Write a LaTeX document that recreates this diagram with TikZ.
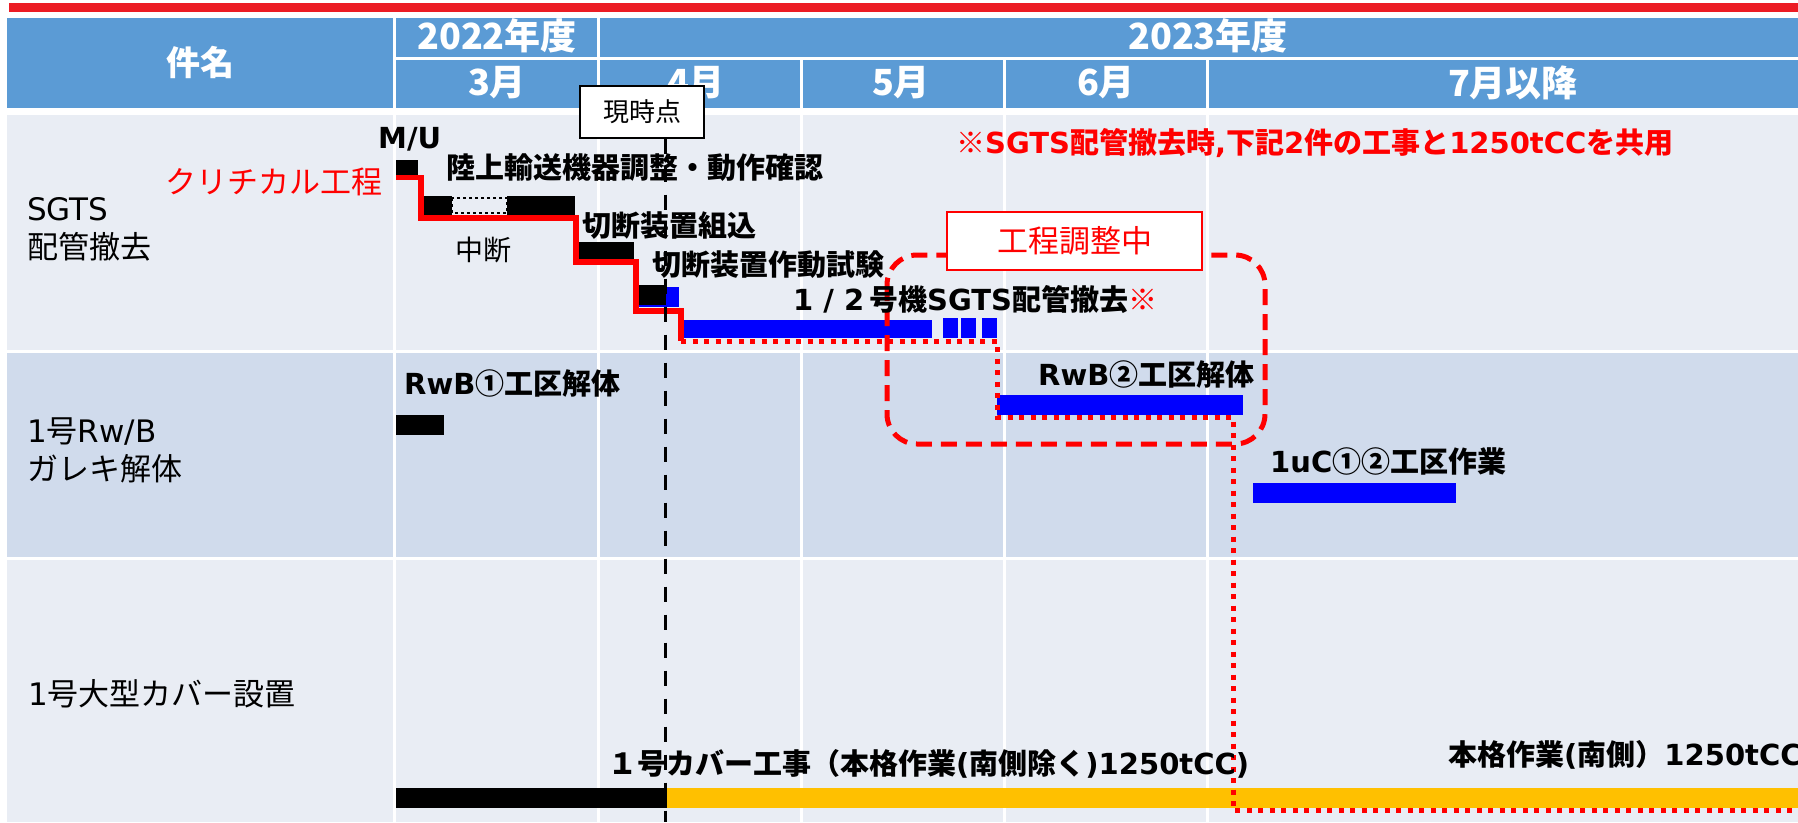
\documentclass[tikz,border=0pt]{standalone}
\usepackage{fontspec}
\setmainfont{Noto Sans CJK JP}
\newfontfamily\jpfont{Noto Sans CJK JP}
\newfontfamily\vfont{DejaVu Sans}
\newcommand{\vv}[1]{{\vfont #1}}
\definecolor{hdrblue}{HTML}{5B9BD5}
\definecolor{rowlight}{HTML}{E9EDF4}
\definecolor{rowdark}{HTML}{D0DBEC}
\definecolor{barblue}{HTML}{0000FF}
\definecolor{baryel}{HTML}{FFC000}
\definecolor{topred}{HTML}{EC1C24}
\definecolor{cpred}{HTML}{FF0000}
\begin{document}
\begin{tikzpicture}[x=1pt,y=-1pt,
  hdrtxt/.style={text=white,inner sep=0pt,font=\jpfont\bfseries\fontsize{36}{40}\selectfont},
  task/.style={anchor=west,inner sep=0pt,text height=25pt,text depth=4pt,font=\jpfont\bfseries\fontsize{29}{34}\selectfont},
  rowname/.style={anchor=west,inner sep=0pt,font=\jpfont\fontsize{31}{38}\selectfont},
  grid line/.style={white,line width=3pt},
  cpath/.style={cpred,line width=5.5pt},
  cdots/.style={cpred,line width=5pt,dash pattern=on 5pt off 6.5pt}]
\useasboundingbox (0,0) rectangle (1798,822);
\clip (0,0) rectangle (1798,822);
\fill[white] (0,0) rectangle (1798,822);
\fill[topred] (9,3) rectangle (1798,12);
% header and rows
\fill[hdrblue] (7,18) rectangle (1798,108);
\fill[rowlight] (7,115) rectangle (1798,350);
\fill[rowdark] (7,353) rectangle (1798,557);
\fill[rowlight] (7,560) rectangle (1798,822);
\draw[grid line] (394.5,18) -- (394.5,822);
\draw[grid line] (396,58.5) -- (1798,58.5);
\draw[grid line] (598,18) -- (598,822);
\foreach \gx in {801,1004,1207}
  \draw[grid line] (\gx,60) -- (\gx,822);
\node[hdrtxt,font=\jpfont\bfseries\fontsize{34}{40}\selectfont] (jianming) at (200,62) {件名};
\node[hdrtxt] (fy22) at (497,36) {2022年度};
\node[hdrtxt] (fy23) at (1208,36) {2023年度};
\foreach \mx/\mt [count=\i] in {497/3月,696/4月,901/5月,1106/6月,1513/7月以降}
  \node[hdrtxt] (mon\i) at (\mx,83) {\mt};
% row names
\node[rowname] (sgtsA) at (27,209) {\vv{SGTS}};
\node[rowname] (sgtsB) at (27,247) {配管撤去};
\node[rowname] (rwbA) at (27,432) {\vv{1}号\vv{Rw/B}};
\node[rowname] (rwbB) at (27,469) {ガレキ解体};
\node[rowname] (cov) at (28,694) {\vv{1}号大型カバー設置};
% bars
\fill[black] (396,160) rectangle (418,175);
\fill[black] (423,196) rectangle (452,215);
\draw[black,line width=2.5pt,dash pattern=on 3pt off 3pt] (452,198) rectangle (507,213);
\fill[black] (507,196) rectangle (575,215);
\fill[black] (579,242) rectangle (634,259);
\fill[barblue] (636,287) rectangle (679,307);
\fill[black] (636,285) rectangle (666,305);
\fill[barblue] (684,320) rectangle (932,338);
\foreach \bx in {943,961,982}
  \fill[barblue] (\bx,318) rectangle ++(15,20);
\fill[black] (396,415) rectangle (444,435);
\fill[barblue] (997,395) rectangle (1243,415);
\fill[barblue] (1253,483) rectangle (1456,503);
\fill[black] (396,788) rectangle (667,808);
\fill[baryel] (667,788) rectangle (1798,808);
% critical path
\draw[cpath] (396,177.5) -| (421,218) -| (576,262) -| (636,311) -| (681,341);
\draw[cdots] (681,341) -- (997,341) |- (1233,417) -- (1233,810.5) -- (1810,810.5);
\draw[cpred,line width=5pt,dash pattern=on 16pt off 9pt,rounded corners=30pt] (887,255) rectangle (1265,444);
\node[draw=cpred,line width=1.5pt,fill=white,text=cpred,minimum width=255pt,minimum height=58pt,inner sep=0pt,
  font=\jpfont\fontsize{31}{36}\selectfont] (adjust) at (1074.5,241) {工程調整中};
% current date
\node[draw=black,line width=1.2pt,fill=white,minimum width=124pt,minimum height=52pt,inner sep=0pt,
  font=\jpfont\fontsize{26}{30}\selectfont] (now) at (642,112) {現時点};
\coordinate (nowend) at (665,822);
\draw[black,line width=3pt,dash pattern=on 15pt off 13pt] (now.south -| nowend) -- (nowend);
% labels
\node[anchor=east,inner sep=0pt,text=cpred,font=\jpfont\fontsize{31}{36}\selectfont] (crit) at (383,182) {クリチカル工程};
\node[task] (mu) at (378,138) {\vv{M/U}};
\node[task] (rikujo) at (446,168) {陸上輸送機器調整・動作確認};
\node[inner sep=0pt,font=\jpfont\fontsize{28}{32}\selectfont] (chudan) at (483,250) {中断};
\node[task] (kumikomi) at (582,226) {切断装置組込};
\node[task] (shiken) at (652,265) {切断装置作動試験};
\node[task] (sgts12) at (793,300) {\vv{1 / 2}\,号機\vv{SGTS}配管撤去\textcolor{cpred}{※}};
\node[task,text=cpred] (note) at (956,143) {※\vv{SGTS}配管撤去時\vv{,}下記\vv{2}件の工事と\vv{1250tCC}を共用};
\node[task] (rwb1) at (404,384) {\vv{RwB}①工区解体};
\node[task] (rwb2) at (1038,375) {\vv{RwB}②工区解体};
\node[task] (uc) at (1270,462) {\vv{1uC}①②工区作業};
\node[task] (cover) at (608,764) {１号カバー工事（本格作業\vv{(}南側除く\vv{)1250tCC)}};
\node[task] (south) at (1448,755) {本格作業\vv{(}南側）\vv{1250tCC}};
\end{tikzpicture}
\end{document}
